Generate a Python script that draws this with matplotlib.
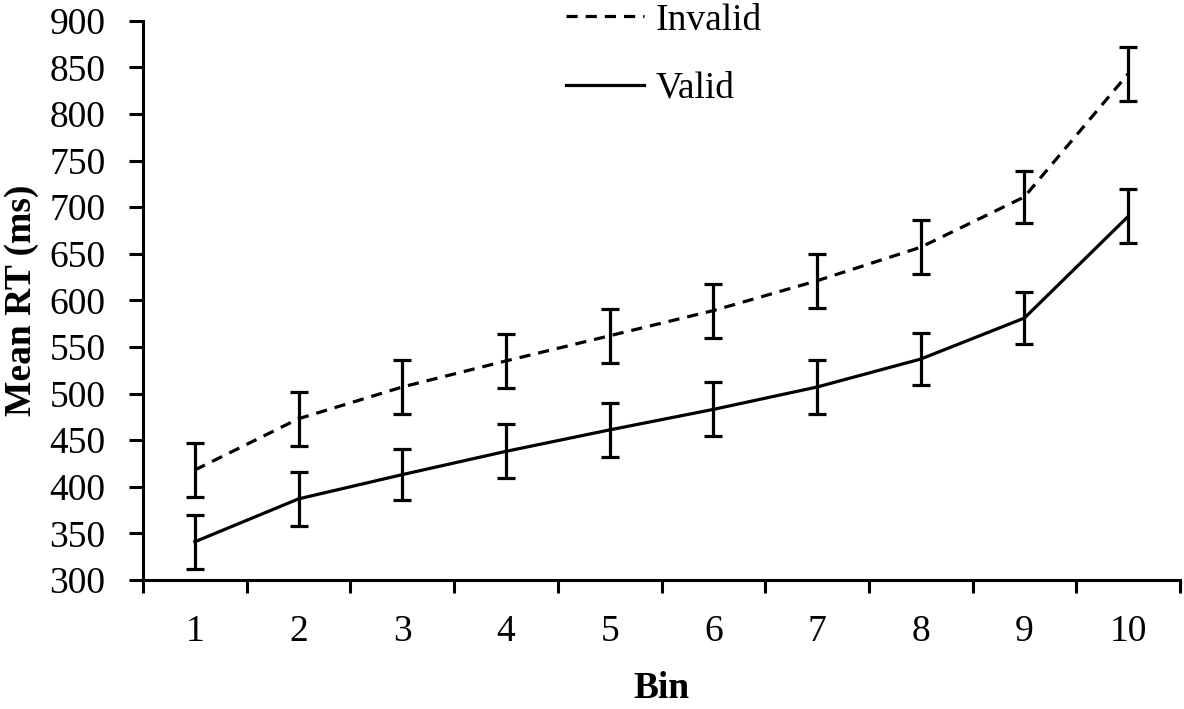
"""Mean RT by bin for valid and invalid trials"""
import matplotlib
matplotlib.use("Agg")
import matplotlib.pyplot as plt
import numpy as np

bins = [1, 2, 3, 4, 5, 6, 7, 8, 9, 10]
invalid_rt = [418, 473, 507, 535, 562, 589, 621, 657, 711, 843]
invalid_err = [29, 29, 29, 29, 29, 29, 29, 29, 28, 29]
valid_rt = [341, 387, 413, 438, 461, 483, 507, 537, 581, 690]
valid_err = [29, 29, 27, 29, 29, 29, 29, 28, 28, 29]
y_ticks = list(range(300, 901, 50))

plt.rcParams["font.family"] = ["Liberation Serif", "DejaVu Serif"]
plt.rcParams["font.size"] = 27

fig = plt.figure(figsize=(11.84, 7.09), dpi=100)
ax = fig.add_axes([0.1208, 0.182, 0.8758, 0.7888])

x = np.array(bins)
err_style = dict(color="black", lw=2.3, capsize=6.5, capthick=2.3, elinewidth=2.3)
ax.errorbar(x, invalid_rt, yerr=invalid_err, ls=(0, (3.5, 2.5)),
            label="Invalid", **err_style)
ax.errorbar(x, valid_rt, yerr=valid_err, ls="-", label="Valid", **err_style)

ax.set_xlim(0.5, 10.5)
ax.set_ylim(300, 900)
ax.set_yticks(y_ticks)

# category boundaries get the tick marks, bin numbers sit between them
ax.set_xticks(np.arange(0.5, 11, 1.0))
ax.set_xticklabels([])
ax.set_xticks(x, minor=True)
ax.set_xticklabels([str(b) for b in bins], minor=True)
ax.tick_params(axis="x", which="major", direction="out", length=9, width=2.2)
ax.tick_params(axis="x", which="minor", length=0, pad=25)
ax.tick_params(axis="y", direction="out", length=10, width=2.2, pad=17)

for side in ("top", "right"):
    ax.spines[side].set_visible(False)
for side in ("left", "bottom"):
    ax.spines[side].set_linewidth(2.2)

ax.set_xlabel("Bin", fontweight="bold", labelpad=16)
ax.set_ylabel("Mean RT (ms)", fontweight="bold")
ax.yaxis.set_label_coords(-0.1, 0.5)

handles, labels = ax.get_legend_handles_labels()
handles = [h[0] for h in handles]
leg = ax.legend(handles, labels, loc="upper left", bbox_to_anchor=(0.375, 1.092),
                frameon=False, handlelength=2.1, handletextpad=0.3,
                labelspacing=0.9, fontsize=27)

fig.savefig("out.png", dpi=100)
